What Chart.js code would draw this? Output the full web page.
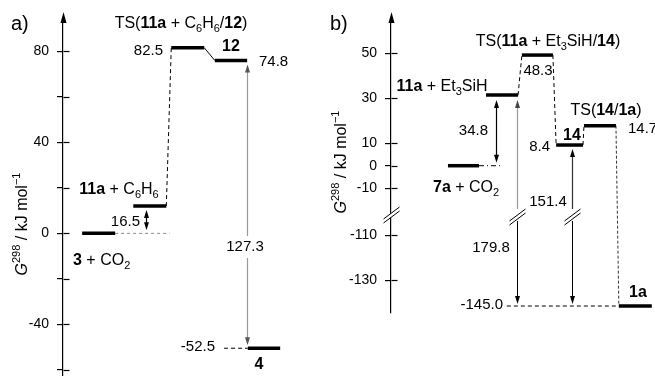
<!DOCTYPE html>
<html>
<head>
<meta charset="utf-8">
<script src="https://cdn.jsdelivr.net/npm/chart.js@4.4.0/dist/chart.umd.min.js"></script>
<style>
  html, body { margin: 0; padding: 0; overflow: hidden; background: #fff; }
  .panel { position: absolute; top: 0; width: 330px; height: 400px; }
</style>
</head>
<body>
<div class="panel" style="left:0"><canvas id="chartA" width="330" height="400"></canvas></div>
<div class="panel" style="left:325px"><canvas id="chartB" width="330" height="400"></canvas></div>
<script>
// ---- panel a) : benzene ----
const speciesA = ['3 + CO2', '11a + C6H6', 'TS(11a + C6H6/12)', '12', '4'];
const energyA = [0, 12.0, 81.6, 76.0, -50.5];
const rcStartA = [0, 1.55, 2.7, 4.02, 5.02];
const rcEndA = [1, 2.55, 3.7, 5.0, 6.0];
const tickValsA = [-60, -40, -20, 0, 20, 40, 60, 80];
const tickLabelsA = ['', '-40', '', '0', '', '40', '', '80'];

// ---- panel b) : Et3SiH (broken axis) ----
const speciesB = ['7a + CO2', '11a + Et3SiH', 'TS(11a + Et3SiH/14)', '14', 'TS(14/1a)', '1a'];
const energyB = [0, 31.4, 49.2, 9.2, 17.8, -141.5];
const rcStartB = [0, 1.19, 2.31, 3.38, 4.25, 5.34];
const rcEndB = [0.97, 2.19, 3.28, 4.22, 5.25, 6.37];
const tickValsB = [-130, -110, -10, 0, 10, 30, 50];
const tickLabelsB = ['-130', '-110', '-10', '0', '10', '30', '50'];

// values below the break are moved up by this much on the axis
const BREAK_SHIFT = 79.1;
const dispB = v => (v < -50 ? v + BREAK_SHIFT : v);

const FONT = '"Liberation Sans", Arial, sans-serif';
Chart.defaults.font.family = FONT;
Chart.defaults.color = '#000';

// tiny markup: <b>, <i>, <sub>, <sup>
function parseRich(s) {
  const out = [], st = { b: 0, i: 0, sub: 0, sup: 0 };
  s.split(/(<\/?(?:b|i|sub|sup)>)/).forEach(p => {
    const m = p.match(/^<(\/?)(b|i|sub|sup)>$/);
    if (m) { st[m[2]] += m[1] ? -1 : 1; return; }
    if (p) out.push({ t: p, b: st.b > 0, i: st.i > 0, sub: st.sub > 0, sup: st.sup > 0 });
  });
  return out;
}
function fontFor(sg, size) {
  const sz = (sg.sub || sg.sup) ? Math.round(size * 0.7) : size;
  return (sg.i ? 'italic ' : '') + (sg.b ? 'bold ' : '') + sz + 'px ' + FONT;
}
function drawRich(ctx, s, x, y, align, size) {
  const segs = parseRich(s);
  let w = 0;
  segs.forEach(sg => { ctx.font = fontFor(sg, size); sg.w = ctx.measureText(sg.t).width; w += sg.w; });
  let cx = align === 'center' ? x - w / 2 : align === 'right' ? x - w : x;
  ctx.textAlign = 'left';
  ctx.textBaseline = 'middle';
  ctx.fillStyle = '#000';
  segs.forEach(sg => {
    ctx.font = fontFor(sg, size);
    const dy = sg.sub ? size * 0.32 : sg.sup ? -size * 0.38 : 0;
    ctx.fillText(sg.t, cx, y + dy);
    cx += sg.w;
  });
  return w;
}

function arrowHead(ctx, x, y, dir, color) {
  // tip at (x, y); dir = -1 points up, +1 points down
  ctx.fillStyle = color;
  ctx.beginPath();
  ctx.moveTo(x, y);
  ctx.lineTo(x - 2.5, y - dir * 8);
  ctx.lineTo(x + 2.5, y - dir * 8);
  ctx.closePath();
  ctx.fill();
}
function vLine(ctx, x, y1, y2, color, width) {
  ctx.strokeStyle = color;
  ctx.lineWidth = width || 1;
  ctx.setLineDash([]);
  ctx.beginPath();
  ctx.moveTo(x, y1);
  ctx.lineTo(x, y2);
  ctx.stroke();
}
function breakMark(ctx, x, c) {
  ctx.fillStyle = '#fff';
  ctx.beginPath();
  ctx.moveTo(x - 8, c + 4); ctx.lineTo(x + 8, c - 8);
  ctx.lineTo(x + 8, c - 4); ctx.lineTo(x - 8, c + 8);
  ctx.closePath();
  ctx.fill();
  ctx.strokeStyle = '#000';
  ctx.lineWidth = 1;
  ctx.setLineDash([]);
  ctx.beginPath();
  ctx.moveTo(x - 8, c + 4); ctx.lineTo(x + 8, c - 8);
  ctx.moveTo(x - 8, c + 8); ctx.lineTo(x + 8, c - 4);
  ctx.stroke();
}
function axisDeco(ctx, chart) {
  const ys = chart.scales.y, x0 = Math.round(chart.chartArea.left) + 0.5;
  ctx.strokeStyle = '#000';
  ctx.lineWidth = 1.2;
  ctx.setLineDash([]);
  ys.ticks.forEach(t => {
    const y = Math.round(ys.getPixelForValue(t.value)) + 0.5;
    ctx.beginPath(); ctx.moveTo(x0, y); ctx.lineTo(x0 + 6, y); ctx.stroke();
  });
  ctx.fillStyle = '#000';
  ctx.beginPath();
  ctx.moveTo(x0, 12); ctx.lineTo(x0 - 3, 23); ctx.lineTo(x0 + 3, 23);
  ctx.closePath(); ctx.fill();
}
function yTitle(ctx, cx, cy) {
  ctx.save();
  ctx.translate(cx, cy);
  ctx.rotate(-Math.PI / 2);
  drawRich(ctx, '<i>G</i><sup>298</sup> / kJ mol<sup>\u22121</sup>', 0, 0, 'center', 16);
  ctx.restore();
}

function seg(x1, y1, x2, y2, style) {
  return Object.assign({
    data: [{ x: x1, y: y1 }, { x: x2, y: y2 }],
    pointRadius: 0, fill: false, tension: 0,
    borderColor: '#000', borderWidth: 1, borderCapStyle: 'butt'
  }, style);
}
const LEVEL = { borderWidth: 3.5, borderColor: '#000' };
const DASH = { borderWidth: 1, borderDash: [4, 3] };

function yScale(min, max, width, vals, labels, toDisp) {
  return {
    type: 'linear', min: min, max: max,
    afterFit: s => { s.width = width; },
    afterBuildTicks: s => { s.ticks = vals.map(v => ({ value: toDisp(v) })); },
    border: { display: true, color: '#000', width: 1.2 },
    grid: { drawOnChartArea: false, drawTicks: true, tickLength: 6, color: '#000', lineWidth: 1.2 },
    ticks: {
      padding: 8, color: '#000', font: { size: 14 },
      callback: (v, i) => labels[i]
    }
  };
}
function baseOptions(xmin, xmax, padBottom, y) {
  return {
    responsive: false, animation: false,
    layout: { padding: { top: 20, bottom: padBottom, left: 0, right: 0 } },
    plugins: { legend: { display: false }, tooltip: { enabled: false } },
    scales: { x: { type: 'linear', display: false, min: xmin, max: xmax }, y: y }
  };
}

// ---------- chart a ----------
const dsA = speciesA.map((s, i) => seg(rcStartA[i], energyA[i], rcEndA[i], energyA[i], LEVEL));
dsA.push(seg(rcEndA[0], energyA[0], 2.65, energyA[0], { borderColor: '#888', borderDash: [3, 3] }));
dsA.push(seg(rcEndA[1], energyA[1], rcStartA[2], energyA[2], DASH));
dsA.push(seg(rcEndA[2], energyA[2], rcStartA[3], energyA[3], {}));
dsA.push(seg(4.3, energyA[4], rcStartA[4], energyA[4], DASH));

new Chart(document.getElementById('chartA'), {
  type: 'line',
  data: { datasets: dsA },
  options: baseOptions(-0.58, 7.51, 24, yScale(-62.7, 93.8, 63, tickValsA, tickLabelsA, v => v)),
  plugins: [{
    id: 'decoA',
    afterDatasetsDraw(chart) {
      const ctx = chart.ctx, xs = chart.scales.x, ys = chart.scales.y;
      const X = v => xs.getPixelForValue(v), Y = v => ys.getPixelForValue(v);
      axisDeco(ctx, chart);
      // 16.5 double arrow
      let x = Math.round(X(1.95)) + 0.5, y1 = Y(energyA[1]) + 4, y2 = Y(energyA[0]) - 3;
      vLine(ctx, x, y1 + 4, y2 - 4, '#000', 1.2);
      arrowHead(ctx, x, y1, -1, '#000'); arrowHead(ctx, x, y2, 1, '#000');
      // 127.3 gray double arrow
      x = Math.round(X(4.98)) + 0.5; y1 = Y(energyA[3]) + 4; y2 = Y(energyA[4]) - 3;
      vLine(ctx, x, y1 + 4, y2 - 4, '#999', 1.2);
      arrowHead(ctx, x, y1, -1, '#555'); arrowHead(ctx, x, y2, 1, '#555');
      ctx.fillStyle = '#fff'; ctx.fillRect(x - 20, 236, 40, 22);

      drawRich(ctx, 'a)', 11, 24, 'left', 20);
      drawRich(ctx, 'TS(<b>11a</b> + C<sub>6</sub>H<sub>6</sub>/<b>12</b>)', 181, 24, 'center', 16);
      drawRich(ctx, '82.5', 163, 51, 'right', 15);
      drawRich(ctx, '<b>12</b>', 231, 47, 'center', 16);
      drawRich(ctx, '74.8', 259, 62, 'left', 15);
      drawRich(ctx, '<b>11a</b> + C<sub>6</sub>H<sub>6</sub>', 119, 190, 'center', 16);
      drawRich(ctx, '16.5', 140, 222, 'right', 15);
      drawRich(ctx, '<b>3</b> + CO<sub>2</sub>', 73, 261, 'left', 16);
      drawRich(ctx, '127.3', 245, 247, 'center', 15);
      drawRich(ctx, '-52.5', 215, 347, 'right', 15);
      drawRich(ctx, '<b>4</b>', 259, 365, 'center', 16);
      yTitle(ctx, 23, 224);
    }
  }]
});

// ---------- chart b ----------
const eB = energyB.map(dispB);
const dsB = speciesB.map((s, i) => seg(rcStartB[i], eB[i], rcEndB[i], eB[i], LEVEL));
dsB.push(seg(rcEndB[0], eB[0], 1.625, eB[0], { borderDash: [5, 3, 1, 3] }));
dsB.push(seg(rcEndB[1], eB[1], rcStartB[2], eB[2], DASH));
dsB.push(seg(rcEndB[2], eB[2], rcStartB[3], eB[3], DASH));
dsB.push(seg(rcEndB[3], eB[3], rcStartB[4], eB[4], DASH));
dsB.push(seg(rcEndB[4], eB[4], rcStartB[5], eB[5], { borderColor: '#333', borderDash: [3, 2] }));
dsB.push(seg(1.84, eB[5], rcStartB[5], eB[5], DASH));

new Chart(document.getElementById('chartB'), {
  type: 'line',
  data: { datasets: dsB },
  options: baseOptions(-1.78, 6.47, 87, yScale(-65.5, 64.8, 66, tickValsB, tickLabelsB, dispB)),
  plugins: [{
    id: 'decoB',
    afterDatasetsDraw(chart) {
      const ctx = chart.ctx, xs = chart.scales.x, ys = chart.scales.y;
      const X = v => xs.getPixelForValue(v), Y = v => ys.getPixelForValue(dispB(v));
      const brk = 213;
      axisDeco(ctx, chart);
      breakMark(ctx, Math.round(chart.chartArea.left) + 0.5, brk + 2);
      // 34.8 double arrow
      let x = Math.round(X(1.49)) + 0.5, y1 = Y(energyB[1]) + 5, y2 = Y(energyB[0]) - 3;
      vLine(ctx, x, y1 + 4, y2 - 4, '#000', 1.2);
      arrowHead(ctx, x, y1, -1, '#000'); arrowHead(ctx, x, y2, 1, '#000');
      // 179.8 broken arrow
      x = Math.round(X(2.15)) + 0.5; y1 = Y(energyB[1]) + 5; y2 = Y(energyB[5]) - 2;
      vLine(ctx, x, y1 + 4, brk - 4, '#999', 1.2);
      vLine(ctx, x, brk + 8, y2 - 4, '#000', 1);
      arrowHead(ctx, x, y1, -1, '#444'); arrowHead(ctx, x, y2, 1, '#000');
      breakMark(ctx, x, brk + 4);
      // 151.4 broken arrow
      x = Math.round(X(3.875)) + 0.5; y1 = Y(energyB[3]) + 4;
      vLine(ctx, x, y1 + 4, brk - 4, '#333', 1.2);
      vLine(ctx, x, brk + 8, y2 - 4, '#000', 1);
      arrowHead(ctx, x, y1, -1, '#000'); arrowHead(ctx, x, y2, 1, '#000');
      breakMark(ctx, x, brk + 4);

      const o = 325; // page offset of this canvas
      drawRich(ctx, 'b)', 330 - o, 24, 'left', 20);
      drawRich(ctx, 'TS(<b>11a</b> + Et<sub>3</sub>SiH/<b>14</b>)', 548 - o, 42, 'center', 16);
      drawRich(ctx, '48.3', 538 - o, 71, 'center', 15);
      drawRich(ctx, '<b>11a</b> + Et<sub>3</sub>SiH', 442 - o, 87, 'center', 16);
      drawRich(ctx, '34.8', 488 - o, 131, 'right', 15);
      drawRich(ctx, '<b>14</b>', 572 - o, 136, 'center', 16);
      drawRich(ctx, '8.4', 550 - o, 147, 'right', 15);
      drawRich(ctx, 'TS(<b>14</b>/<b>1a</b>)', 606 - o, 111, 'center', 16);
      drawRich(ctx, '14.7', 628 - o, 129, 'left', 15);
      drawRich(ctx, '<b>7a</b> + CO<sub>2</sub>', 433 - o, 188, 'left', 16);
      drawRich(ctx, '151.4', 548 - o, 202, 'center', 15);
      drawRich(ctx, '179.8', 491 - o, 248, 'center', 15);
      drawRich(ctx, '-145.0', 503 - o, 305, 'right', 15);
      drawRich(ctx, '<b>1a</b>', 638 - o, 293, 'center', 16);
      yTitle(ctx, 342 - o, 162);
    }
  }]
});
</script>
</body>
</html>
